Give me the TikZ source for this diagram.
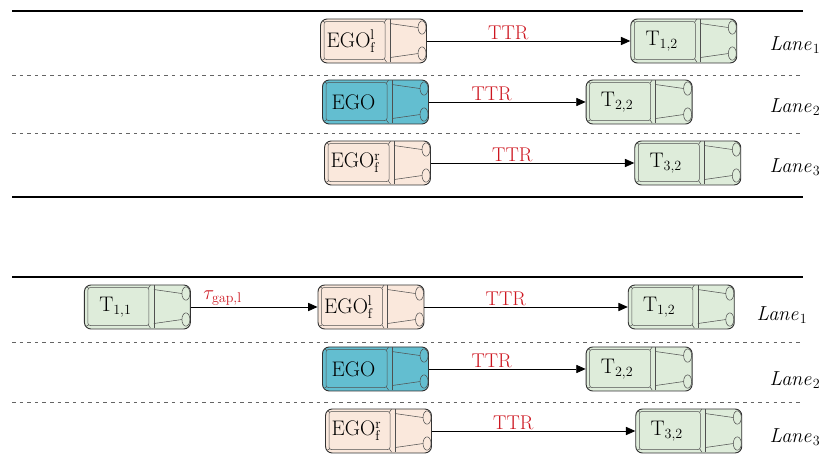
\documentclass[tikz,border=0pt]{standalone}
\usetikzlibrary{arrows.meta,positioning}

\definecolor{egoblue}{RGB}{99,190,208}
\definecolor{sidepeach}{RGB}{250,232,220}
\definecolor{targetgreen}{RGB}{222,236,218}
\definecolor{ttrred}{RGB}{205,22,32}
\definecolor{carline}{RGB}{80,80,80}
\definecolor{laneline}{RGB}{100,100,100}

\tikzset{
  % cabin, bonnet and head lights, drawn from the car's north west corner
  carbody/.pic={
    \begin{scope}[x=0.03cm, y=-0.03cm, carline, line width=0.45pt]
      \draw[rounded corners=2pt] (4,3) rectangle (65,41);
      \draw (70,0.5) -- (70,43.5);
      \draw (2.5,2.5) -- (4.5,3.5) (2.5,41.5) -- (4.5,40.5)
            (64.5,3.5) -- (66.5,0.5) (64.5,40.5) -- (66.5,43.5);
      \draw (70,5) -- (98,9) (70,39) -- (98,35);
      \draw (102,9) ellipse [x radius=0.12cm, y radius=0.2cm]
            (102,35) ellipse [x radius=0.12cm, y radius=0.2cm];
    \end{scope}
  }
}

\begin{document}
\begin{tikzpicture}[
  node distance=6.1cm,
  car/.style={
    draw=black!80,
    line width=0.8pt,
    rounded corners=0.2cm,
    minimum height=1.32cm,
    text width=2.98cm,
    inner xsep=0.1cm,
    inner ysep=0pt,
    align=left,
    font=\fontsize{18}{21}\selectfont,
    execute at begin node={\hbox to 1.66cm\bgroup\hss},
    execute at end node={\hss\egroup}
  },
  ego/.style={car, fill=egoblue},
  side/.style={car, fill=sidepeach},
  target/.style={car, fill=targetgreen},
  arr/.style={-{Triangle[length=8pt,width=7pt]}, line width=0.7pt},
  ttr/.style={above, pos=0.4, inner sep=1pt, text=ttrred,
    font=\fontsize{17}{20}\selectfont},
  lane/.style={font=\fontsize{18}{21}\selectfont},
  road/.style={line width=1.6pt},
  divider/.style={laneline, dash pattern=on 3pt off 3.5pt, line width=0.6pt}
]
\useasboundingbox (0,0) rectangle (24.9,13.74);

% upper road
\draw[road] (0.36,13.41) -- (24.09,13.41);
\draw[divider] (0.36,11.49) -- (24.09,11.49);
\draw[divider] (0.36,9.75) -- (24.09,9.75);
\draw[road, line width=1.9pt] (0.36,7.83) -- (24.09,7.83);

\node[side] (egol) at (11.205,12.51) {EGO$^\mathrm{l}_\mathrm{f}$};
\node[target, right=of egol] (tl) {T$_{1,2}$};
\node[ego] (ego) at (11.265,10.68) {EGO};
\node[target, right=4.7cm of ego] (tc) {T$_{2,2}$};
\node[side] (egor) at (11.325,8.85) {EGO$^\mathrm{r}_\mathrm{f}$};
\node[target, right=of egor] (tr) {T$_{3,2}$};

\draw[arr] (egol) -- node[ttr] {TTR} (tl);
\draw[arr] (ego) -- node[ttr] {TTR} (tc);
\draw[arr] (egor) -- node[ttr] {TTR} (tr);

\node[lane] (lanel) at (23.85,12.39) {$\mathit{Lane}_1$};
\node[lane] (lanec) at (23.85,10.53) {$\mathit{Lane}_2$};
\node[lane] (laner) at (23.85,8.73) {$\mathit{Lane}_3$};

% lower road, with the rear car in the left lane
\draw[road] (0.36,5.43) -- (24.09,5.43);
\draw[divider] (0.36,3.48) -- (24.09,3.48);
\draw[divider] (0.36,1.68) -- (24.09,1.68);

\node[side] (begol) at (11.13,4.53) {EGO$^\mathrm{l}_\mathrm{f}$};
\node[target, left=3.8cm of begol] (btrear) {T$_{1,1}$};
\node[target, right=of begol] (btl) {T$_{1,2}$};
\node[ego] (bego) at (11.265,2.67) {EGO};
\node[target, right=4.7cm of bego] (btc) {T$_{2,2}$};
\node[side] (begor) at (11.355,0.81) {EGO$^\mathrm{r}_\mathrm{f}$};
\node[target, right=of begor] (btr) {T$_{3,2}$};

\draw[arr] (btrear) -- node[ttr, pos=0.25, font=\fontsize{18}{21}\selectfont]
  {$\tau_{\mathrm{gap,l}}$} (begol);
\draw[arr] (begol) -- node[ttr] {TTR} (btl);
\draw[arr] (bego) -- node[ttr] {TTR} (btc);
\draw[arr] (begor) -- node[ttr] {TTR} (btr);

\node[lane] (blanel) at (23.46,4.29) {$\mathit{Lane}_1$};
\node[lane] (blanec) at (23.85,2.34) {$\mathit{Lane}_2$};
\node[lane] (blaner) at (23.85,0.63) {$\mathit{Lane}_3$};

\foreach \car in {egol,tl,ego,tc,egor,tr,btrear,begol,btl,bego,btc,begor,btr}
  \pic at (\car.north west) {carbody};
\end{tikzpicture}
\end{document}
